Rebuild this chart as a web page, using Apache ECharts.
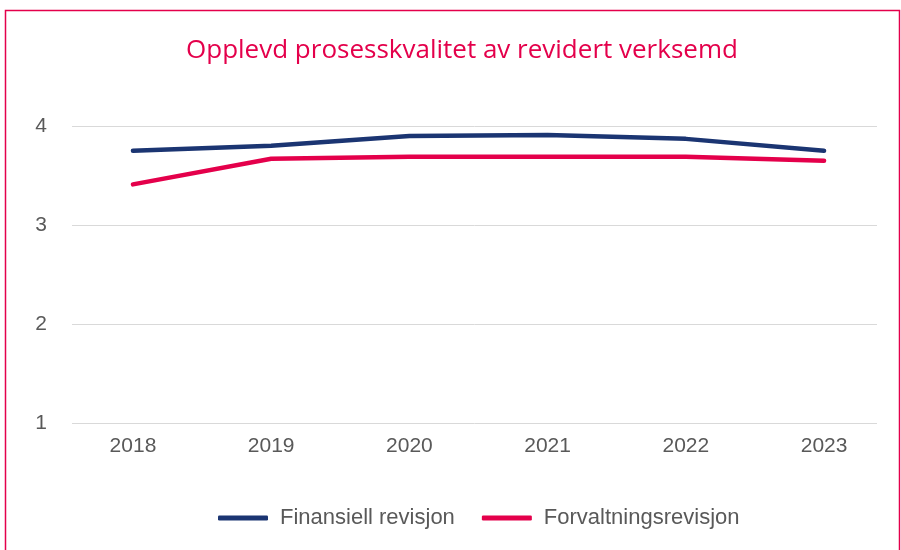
<!DOCTYPE html>
<html>
<head>
<meta charset="utf-8">
<script src="https://cdn.jsdelivr.net/npm/echarts@6/dist/echarts.min.js"></script>
<style>
  html, body { margin: 0; padding: 0; background: #fff; }
  #chart { width: 901px; height: 550px; }
</style>
</head>
<body>
<div id="chart"></div>
<script>
// data
const years = [2018, 2019, 2020, 2021, 2022, 2023]
const finansiell = [3.75, 3.80, 3.90, 3.91, 3.87, 3.75]
const forvaltning = [3.41, 3.67, 3.69, 3.69, 3.69, 3.65]
const yTicks = [1, 2, 3, 4]

const toPairs = vals => years.map((y, i) => [y, vals[i]])

const chart = echarts.init(document.getElementById('chart'))

const option = {
  backgroundColor: '#fff',
  animation: false,
  title: {
    text: 'Opplevd prosesskvalitet av revidert verksemd',
    left: 181,
    top: 33,
    textStyle: {
      color: '#E4004B',
      fontSize: 26,
      fontWeight: 'normal',
      fontFamily: 'Open Sans'
    }
  },
  graphic: [
    {
      type: 'rect',
      shape: { x: 5.5, y: 10.5, width: 894, height: 600 },
      style: { fill: 'none', stroke: '#E4004B', lineWidth: 1.5 },
      silent: true
    }
  ],
  legend: {
    top: 502,
    left: 213,
    icon: 'roundRect',
    itemWidth: 50,
    itemHeight: 5,
    itemGap: 27,
    textStyle: {
      color: '#595959',
      fontSize: 22,
      fontFamily: 'Liberation Sans',
      padding: [0, 0, 0, 7]
    },
    data: ['Finansiell revisjon', 'Forvaltningsrevisjon']
  },
  grid: {
    left: 72,
    right: 24,
    top: 126,
    bottom: 127
  },
  xAxis: {
    type: 'value',
    min: 2017.559,
    max: 2023.383,
    axisLine: { show: false },
    axisTick: { show: false },
    splitLine: { show: false },
    axisLabel: {
      customValues: years,
      formatter: v => String(v),
      color: '#595959',
      fontSize: 21,
      fontFamily: 'Liberation Sans',
      margin: 13
    }
  },
  yAxis: {
    type: 'value',
    min: yTicks[0],
    max: yTicks[yTicks.length - 1],
    interval: 1,
    axisLine: { show: false },
    axisTick: { show: false },
    axisLabel: {
      color: '#595959',
      fontSize: 21,
      fontFamily: 'Liberation Sans',
      margin: 25
    },
    splitLine: { lineStyle: { color: '#d9d9d9', width: 1 } }
  },
  series: [
    {
      name: 'Finansiell revisjon',
      type: 'line',
      data: toPairs(finansiell),
      showSymbol: false,
      symbol: 'none',
      lineStyle: { color: '#1B3572', width: 4.5, cap: 'round', join: 'round' },
      itemStyle: { color: '#1B3572' }
    },
    {
      name: 'Forvaltningsrevisjon',
      type: 'line',
      data: toPairs(forvaltning),
      showSymbol: false,
      symbol: 'none',
      lineStyle: { color: '#E4004B', width: 4.5, cap: 'round', join: 'round' },
      itemStyle: { color: '#E4004B' }
    }
  ]
}

chart.setOption(option)
</script>
</body>
</html>
